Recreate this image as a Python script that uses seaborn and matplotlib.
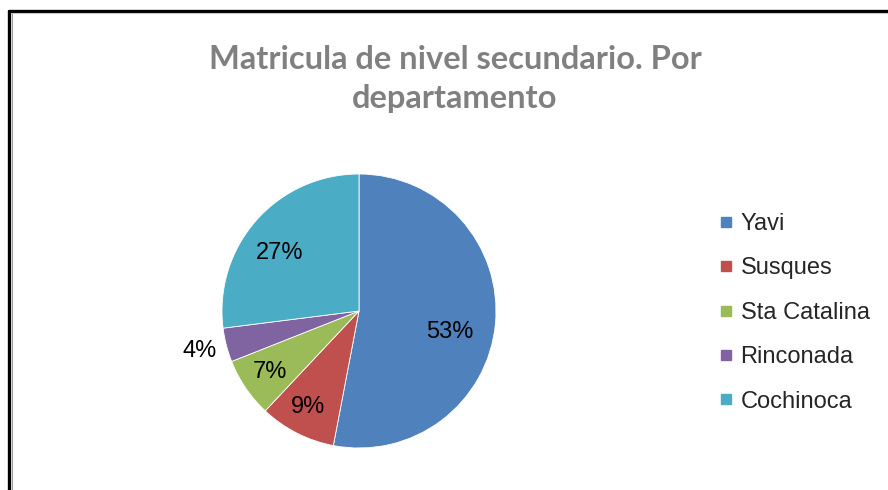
import matplotlib
matplotlib.use("Agg")
import matplotlib.pyplot as plt
from matplotlib.lines import Line2D
import numpy as np
import seaborn as sns

categories = ["Yavi", "Susques", "Sta Catalina", "Rinconada", "Cochinoca"]
values = [53, 9, 7, 4, 27]
colors = ["#4F81BD", "#C0504D", "#9BBB59", "#8064A2", "#4BACC6"]
title = "Matricula de nivel secundario. Por\ndepartamento"

sns.set_theme(style="white")
plt.rcParams["font.family"] = ["Liberation Sans", "DejaVu Sans"]

W, H = 888, 490
fig = plt.figure(figsize=(W / 100, H / 100), dpi=100)
fig.patch.set_facecolor("white")

# pie axes: center (359, 311), radius 137 px
cx, cy, r = 359, 311, 137
ax = fig.add_axes([(cx - r) / W, 1 - (cy + r) / H, 2 * r / W, 2 * r / H])
wedges, texts, autotexts = ax.pie(
    values, colors=colors, startangle=90, counterclock=False,
    autopct="%1.0f%%", pctdistance=0.75, radius=1.0,
    wedgeprops=dict(linewidth=0.6, edgecolor="white"),
    textprops=dict(fontsize=17, color="black"),
)
ax.set_xlim(-1, 1)
ax.set_ylim(-1, 1)
ax.set_aspect("auto")

# label radii / angle offsets (Excel best-fit placement)
label_r = [0.68, 0.79, 0.79, 1.20, 0.72]
label_ang_shift = [-7.6, -1.0, 0.2, -0.4, 5.4]
start = 90.0
total = float(sum(values))
for t, v, lr, sh in zip(autotexts, values, label_r, label_ang_shift):
    span = 360.0 * v / total
    mid = start - span / 2 + sh
    t.set_position((lr * np.cos(np.radians(mid)), lr * np.sin(np.radians(mid))))
    start -= span

fig.text(455 / W, 1 - 79 / H, title, ha="center", va="center",
         fontsize=23.5, fontweight="bold", color="#808080",
         family=["Lato", "DejaVu Sans"], linespacing=1.45)

handles = [Line2D([0], [0], marker="s", linestyle="none", markersize=7.5,
                  markerfacecolor=c, markeredgecolor=c) for c in colors]
fig.legend(handles, categories, loc="upper left",
           bbox_to_anchor=(717 / W, 1 - 213 / H), frameon=False,
           fontsize=17, labelspacing=0.95, handlelength=0.75,
           handletextpad=0.25, borderpad=0, borderaxespad=0)

# figure border (left and top visible)
fig.add_artist(Line2D([9 / W, 9 / W], [0, 1 - 11 / H], color="black",
                      linewidth=2.4, transform=fig.transFigure))
fig.add_artist(Line2D([9 / W, 1], [1 - 11 / H, 1 - 11 / H], color="black",
                      linewidth=2.4, transform=fig.transFigure))
fig.add_artist(Line2D([11.5 / W, 11.5 / W], [0, 1 - 13.5 / H], color="#A0A0A0",
                      linewidth=0.8, transform=fig.transFigure))
fig.add_artist(Line2D([11.5 / W, 1], [1 - 13.5 / H, 1 - 13.5 / H], color="#C8C8C8",
                      linewidth=0.8, transform=fig.transFigure))

fig.savefig("out.png", dpi=100, facecolor="white")
